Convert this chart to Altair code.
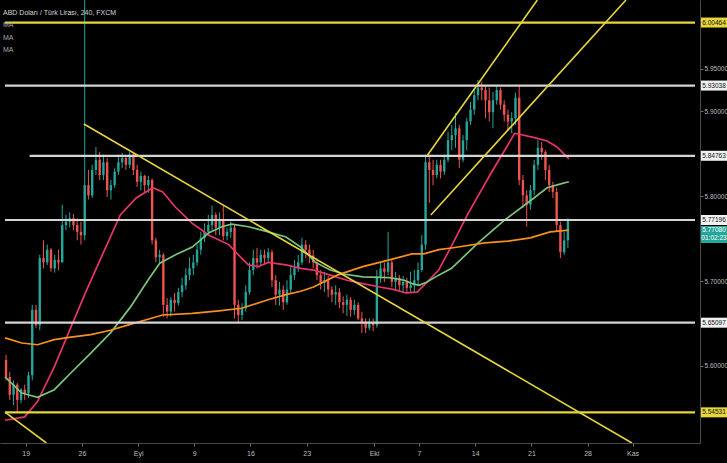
import altair as alt
import pandas as pd

FONT = "Liberation Sans Narrow, Liberation Sans, Arial, sans-serif"

# ---------------- data (USD/TRY, 8h candles, trading-day index: 19 Aug = 0) ----------------
first_open = 5.607
close_px = [5.587, 5.566, 5.578, 5.560, 5.572, 5.568, 5.589, 5.666, 5.648, 5.727,
            5.722, 5.737, 5.715, 5.725, 5.722, 5.766, 5.770, 5.774, 5.766, 5.758,
            5.754, 5.813, 5.801, 5.831, 5.843, 5.825, 5.840, 5.807, 5.813, 5.829,
            5.840, 5.845, 5.837, 5.849, 5.831, 5.817, 5.824, 5.813, 5.819, 5.748,
            5.728, 5.731, 5.672, 5.664, 5.678, 5.674, 5.687, 5.695, 5.707, 5.715,
            5.722, 5.737, 5.751, 5.758, 5.766, 5.778, 5.763, 5.772, 5.753, 5.758,
            5.763, 5.672, 5.660, 5.668, 5.687, 5.713, 5.727, 5.722, 5.731, 5.727,
            5.734, 5.701, 5.684, 5.690, 5.675, 5.690, 5.707, 5.715, 5.722, 5.743,
            5.737, 5.730, 5.722, 5.707, 5.698, 5.701, 5.690, 5.684, 5.687, 5.675,
            5.672, 5.678, 5.666, 5.672, 5.656, 5.652, 5.645, 5.652, 5.648, 5.704,
            5.715, 5.711, 5.722, 5.699, 5.704, 5.695, 5.699, 5.692, 5.695, 5.701,
            5.713, 5.743, 5.840, 5.831, 5.825, 5.837, 5.829, 5.843, 5.866, 5.872,
            5.880, 5.843, 5.866, 5.888, 5.902, 5.919, 5.928, 5.925, 5.913, 5.899,
            5.913, 5.925, 5.908, 5.896, 5.888, 5.892, 5.916, 5.819, 5.801, 5.790,
            5.807, 5.837, 5.857, 5.852, 5.831, 5.813, 5.805, 5.766, 5.734, 5.748,
            5.7708]
high_px = [5.613, 5.593, 5.583, 5.580, 5.574, 5.578, 5.593, 5.672, 5.672, 5.731,
           5.748, 5.743, 5.739, 5.731, 5.737, 5.790, 5.778, 5.781, 5.779, 5.774,
           5.770, 6.050, 5.831, 5.837, 5.858, 5.852, 5.849, 5.845, 5.819, 5.833,
           5.849, 5.851, 5.847, 5.852, 5.851, 5.837, 5.829, 5.825, 5.824, 5.821,
           5.751, 5.737, 5.733, 5.680, 5.681, 5.686, 5.692, 5.704, 5.715, 5.728,
           5.731, 5.743, 5.758, 5.768, 5.778, 5.789, 5.781, 5.781, 5.789, 5.763,
           5.770, 5.766, 5.678, 5.674, 5.695, 5.722, 5.737, 5.739, 5.737, 5.737,
           5.739, 5.737, 5.707, 5.699, 5.695, 5.701, 5.719, 5.725, 5.731, 5.751,
           5.748, 5.743, 5.737, 5.727, 5.713, 5.711, 5.706, 5.694, 5.695, 5.692,
           5.682, 5.684, 5.681, 5.678, 5.675, 5.664, 5.656, 5.656, 5.656, 5.713,
           5.722, 5.722, 5.758, 5.725, 5.711, 5.707, 5.706, 5.704, 5.711, 5.713,
           5.722, 5.754, 5.849, 5.849, 5.843, 5.843, 5.843, 5.849, 5.876, 5.884,
           5.898, 5.884, 5.872, 5.892, 5.911, 5.925, 5.937, 5.935, 5.931, 5.928,
           5.923, 5.930, 5.928, 5.913, 5.902, 5.899, 5.922, 5.931, 5.825, 5.807,
           5.813, 5.843, 5.866, 5.864, 5.854, 5.837, 5.817, 5.810, 5.770, 5.758,
           5.774]
low_px = [5.583, 5.560, 5.554, 5.546, 5.556, 5.560, 5.562, 5.583, 5.645, 5.642,
          5.715, 5.719, 5.711, 5.710, 5.713, 5.722, 5.760, 5.763, 5.760, 5.748,
          5.743, 5.748, 5.796, 5.798, 5.825, 5.819, 5.819, 5.799, 5.796, 5.810,
          5.825, 5.833, 5.831, 5.833, 5.825, 5.811, 5.807, 5.805, 5.804, 5.743,
          5.722, 5.721, 5.658, 5.656, 5.658, 5.664, 5.671, 5.681, 5.690, 5.701,
          5.707, 5.718, 5.731, 5.746, 5.753, 5.760, 5.754, 5.754, 5.748, 5.748,
          5.751, 5.656, 5.651, 5.654, 5.664, 5.684, 5.707, 5.715, 5.718, 5.719,
          5.722, 5.693, 5.672, 5.671, 5.666, 5.672, 5.686, 5.701, 5.711, 5.719,
          5.727, 5.721, 5.715, 5.701, 5.690, 5.687, 5.681, 5.675, 5.672, 5.668,
          5.662, 5.659, 5.658, 5.660, 5.654, 5.639, 5.639, 5.642, 5.641, 5.645,
          5.698, 5.699, 5.707, 5.693, 5.690, 5.687, 5.687, 5.685, 5.686, 5.687,
          5.695, 5.711, 5.737, 5.792, 5.813, 5.821, 5.821, 5.825, 5.840, 5.854,
          5.857, 5.833, 5.840, 5.854, 5.884, 5.896, 5.913, 5.913, 5.892, 5.888,
          5.880, 5.908, 5.902, 5.888, 5.878, 5.874, 5.884, 5.813, 5.786, 5.764,
          5.784, 5.801, 5.831, 5.843, 5.819, 5.805, 5.798, 5.758, 5.727, 5.731,
          5.739]

# moving averages (trading-day, price)
ma_pink_t = [-1.842, -0.088, 1.053, 2.544, 4.035, 5.439, 6.930, 8.421, 9.825, 11.316,
             12.193, 13.333, 14.825, 16.316, 18.070, 19.211, 19.825, 20.702, 21.579, 23.158,
             24.474, 25.614, 27.105, 28.596, 30.000, 31.491, 32.807, 33.860, 34.825, 35.439,
             36.754, 38.070, 39.386, 41.404, 42.895, 43.509, 43.947, 45.263, 46.404, 47.281,
             48.333]
ma_pink_p = [5.536, 5.540, 5.558, 5.599, 5.646, 5.690, 5.734, 5.778, 5.798, 5.810,
             5.805, 5.787, 5.768, 5.754, 5.743, 5.727, 5.719, 5.717, 5.722, 5.719,
             5.715, 5.713, 5.707, 5.701, 5.697, 5.693, 5.690, 5.686, 5.687, 5.695,
             5.713, 5.746, 5.780, 5.827, 5.860, 5.874, 5.873, 5.869, 5.865, 5.858,
             5.844]
ma_green_t = [-1.842, -0.351, 1.053, 2.544, 4.035, 5.789, 7.544, 9.298, 10.877, 11.930,
              13.333, 14.825, 16.316, 17.456, 18.333, 19.825, 21.579, 23.158, 24.474, 25.789,
              27.105, 28.421, 30.000, 32.368, 33.684, 34.386, 35.000, 35.702, 36.754, 37.895,
              40.263, 42.632, 44.649, 46.404, 47.456, 48.333]
ma_green_p = [5.587, 5.568, 5.563, 5.572, 5.592, 5.615, 5.639, 5.669, 5.701, 5.721,
              5.731, 5.740, 5.757, 5.764, 5.767, 5.764, 5.758, 5.752, 5.740, 5.722,
              5.713, 5.708, 5.705, 5.704, 5.701, 5.697, 5.695, 5.699, 5.707, 5.715,
              5.745, 5.772, 5.792, 5.810, 5.814, 5.817]
ma_orange_t = [-1.842, -0.351, 1.053, 2.544, 4.035, 5.789, 7.544, 9.298, 10.877, 12.193,
               14.825, 17.193, 19.211, 21.579, 23.158, 24.474, 25.614, 27.719, 30.000, 32.368,
               34.386, 35.439, 36.754, 37.895, 40.877, 42.895, 44.912, 46.667, 48.333]
ma_orange_p = [5.633, 5.627, 5.625, 5.631, 5.634, 5.637, 5.642, 5.649, 5.655, 5.660,
               5.662, 5.665, 5.668, 5.678, 5.684, 5.688, 5.693, 5.707, 5.717, 5.725,
               5.732, 5.732, 5.737, 5.739, 5.745, 5.747, 5.751, 5.758, 5.760]

# horizontal levels
level_price = [6.00464, 5.93038, 5.84763, 5.77196, 5.65097, 5.54531]
level_kind = ["yellow", "white", "white", "white", "white", "yellow"]
level_start = [-1.842, -1.842, 0.351, -1.842, -1.842, -1.842]
level_end = [59.561] * 6

# trend lines
trend_t1 = [5.175, -1.842, 35.70, 36.05]
trend_p1 = [5.8851, 5.5457, 5.8474, 5.7779]
trend_t2 = [53.947, 1.842, 45.53, 53.42]
trend_p2 = [5.5092, 5.5092, 6.0312, 6.0312]

last_price = 5.7708
last_label = "5.77080"
countdown = "01:02:23"

tick_days = [0, 5, 10, 15, 20, 25, 31, 35, 40, 45, 50, 54]
tick_labels = ["19", "26", "Eyl", "9", "16", "23", "Eki", "7", "14", "21", "28", "Kas"]
price_ticks = [5.60, 5.70, 5.80, 5.90, 5.95]

title_text = "ABD Doları / Türk Lirası, 240, FXCM"

# ---------------- styles ----------------
UP, DOWN = "#26a69a", "#ef5350"
MA_COL = {"pink": "#e8336b", "green": "#79c57a", "orange": "#f7901e"}
LEVEL_COL = {"yellow": "#e6d63c", "white": "#d4d4d4"}
BOX_COL = {"yellow": "#e6d63c", "white": "#f0f0f0"}

# ---------------- frames ----------------
bar_day = [round(-1.75 + k / 3, 4) for k in range(len(close_px))]
open_px = [first_open] + close_px[:-1]
candle_col = [UP if c >= o else DOWN for o, c in zip(open_px, close_px)]
candles = pd.DataFrame(dict(t=bar_day, o=open_px, h=high_px, l=low_px, c=close_px, col=candle_col))

ma_df = pd.concat([
    pd.DataFrame(dict(t=ma_pink_t, p=ma_pink_p, ma="pink")),
    pd.DataFrame(dict(t=ma_green_t, p=ma_green_p, ma="green")),
    pd.DataFrame(dict(t=ma_orange_t, p=ma_orange_p, ma="orange")),
])
ma_df["col"] = ma_df["ma"].map(MA_COL)
levels_df = pd.DataFrame(dict(p=level_price, k=level_kind, t1=level_start, t2=level_end,
                              txt=[f"{v:.5f}" for v in level_price]))
levels_df["col"] = levels_df["k"].map(LEVEL_COL)
levels_df["box"] = levels_df["k"].map(BOX_COL)
trend_df = pd.DataFrame(dict(t1=trend_t1, p1=trend_p1, t2=trend_t2, p2=trend_p2))
last_df = pd.DataFrame(dict(p=[last_price], a=[last_label], b=[countdown]))

# ---------------- scales / axes ----------------
xs = alt.Scale(domain=[-1.842, 59.561], nice=False, zero=False)
ys = alt.Scale(domain=[5.5092, 6.0312], nice=False, zero=False)

label_expr = ("[" + ",".join(f"'{s}'" for s in tick_labels) + "][indexof(["
              + ",".join(str(v) for v in tick_days) + "], datum.value)]")
x_axis = alt.Axis(values=tick_days, labelExpr=label_expr, title=None, grid=False,
                  domainColor="#4a4a4a", tickColor="#707070", tickSize=3,
                  labelColor="#bdbdbd", labelFont=FONT, labelFontSize=7, labelPadding=3,
                  labelOverlap=False, labelFlush=False)
y_axis = alt.Axis(orient="right", values=price_ticks, format=".5f", title=None, grid=False,
                  domainColor="#4a4a4a", tickColor="#707070", tickSize=3,
                  labelColor="#bdbdbd", labelFont=FONT, labelFontSize=6.5, labelPadding=1,
                  labelOverlap=False)


def X(field):
    return alt.X(field, scale=xs, axis=x_axis)


def Y(field):
    return alt.Y(field, scale=ys, axis=y_axis)


wicks = alt.Chart(candles).mark_rule(strokeWidth=1, clip=True).encode(
    x=X("t:Q"), y=Y("l:Q"), y2="h:Q", color=alt.Color("col:N", scale=None),
)
bodies = alt.Chart(candles).mark_bar(size=2.4, clip=True).encode(
    x=X("t:Q"), y=Y("o:Q"), y2="c:Q", color=alt.Color("col:N", scale=None),
)
mas = alt.Chart(ma_df).mark_line(strokeWidth=1.7, clip=True).encode(
    x=X("t:Q"), y=Y("p:Q"), detail="ma:N", color=alt.Color("col:N", scale=None),
)
levels = alt.Chart(levels_df).mark_rule(strokeWidth=2.2).encode(
    x=X("t1:Q"), x2="t2:Q", y=Y("p:Q"), color=alt.Color("col:N", scale=None),
)
trends = alt.Chart(trend_df).mark_rule(strokeWidth=1.6, color="#e6d63c", clip=True).encode(
    x=X("t1:Q"), x2="t2:Q", y=Y("p1:Q"), y2="p2:Q",
)

# price labels on the right scale
lab_box = alt.Chart(levels_df).mark_rect(yOffset=-5, y2Offset=5).encode(
    x=alt.value(701), x2=alt.value(727), y=Y("p:Q"), y2="p:Q",
    color=alt.Color("box:N", scale=None),
)
lab_txt = alt.Chart(levels_df).mark_text(font=FONT, fontSize=6.5, align="center", baseline="middle",
                                          color="#111111").encode(
    x=alt.value(714), y=Y("p:Q"), text="txt:N",
)
last_box = alt.Chart(last_df).mark_rect(color="#26a69a", yOffset=5, y2Offset=22).encode(
    x=alt.value(701), x2=alt.value(727), y=Y("p:Q"), y2="p:Q",
)
last_txt1 = alt.Chart(last_df).mark_text(font=FONT, fontSize=6.5, align="center", baseline="middle",
                                          color="#ffffff", dy=9.5).encode(
    x=alt.value(714), y=Y("p:Q"), text="a:N",
)
last_txt2 = alt.Chart(last_df).mark_text(font=FONT, fontSize=6.5, align="center", baseline="middle",
                                          color="#ffffff", dy=17.5).encode(
    x=alt.value(714), y=Y("p:Q"), text="b:N",
)

title = alt.Chart(pd.DataFrame(dict(s=[title_text]))).mark_text(
    font=FONT, fontSize=7, align="left", baseline="middle", color="#d6d6d6").encode(
    x=alt.value(3), y=alt.value(13), text="s:N")
ma_labels = alt.Chart(pd.DataFrame(dict(s=["MA\nMA\nMA"]))).mark_text(
    font=FONT, fontSize=7, align="left", baseline="middle", color="#a8a8a8",
    lineBreak="\n", lineHeight=12.5).encode(
    x=alt.value(3), y=alt.value(25), text="s:N")

chart = alt.layer(
    wicks, bodies, mas, levels, trends,
    lab_box, lab_txt, last_box, last_txt1, last_txt2,
    title, ma_labels,
).properties(
    width=700, height=443,
    background="#000000",
    padding={"left": 0, "top": 0, "right": 27, "bottom": 20},
    autosize=alt.AutoSizeParams(type="none"),
).configure_view(stroke=None)

chart.save("out.html", embed_options={"renderer": "svg", "actions": False})
